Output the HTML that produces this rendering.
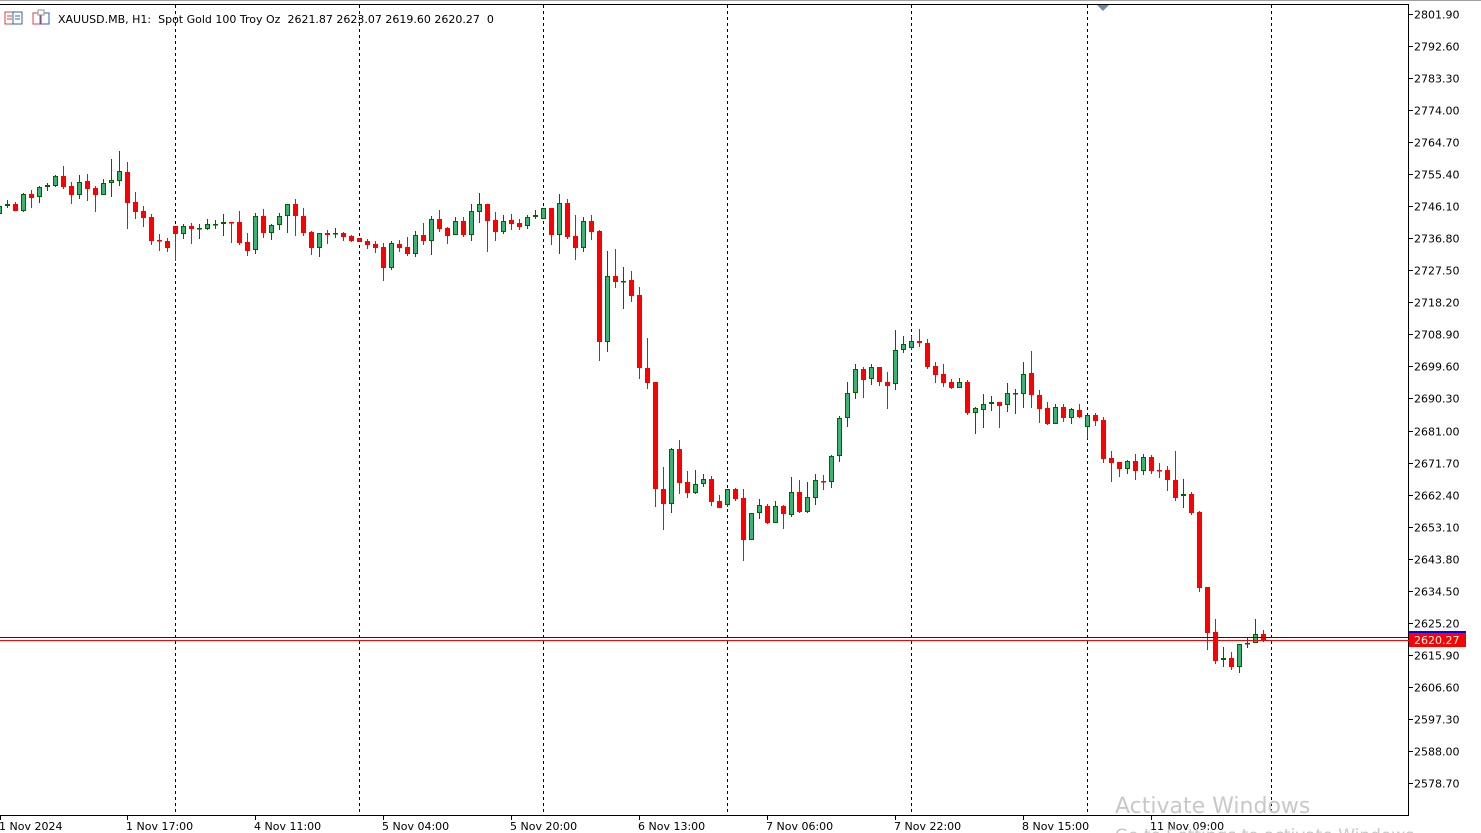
<!DOCTYPE html>
<html><head><meta charset="utf-8"><style>
html,body{margin:0;padding:0;background:#fff;width:1481px;height:833px;overflow:hidden}
svg{display:block}
text{font-family:"DejaVu Sans","Liberation Sans",sans-serif;font-size:11px;fill:#000;white-space:pre}
</style></head><body>
<svg id="s" width="1481" height="833" viewBox="0 0 1481 833" xmlns="http://www.w3.org/2000/svg">
<rect width="1481" height="833" fill="#fff"/>
<line x1="0" y1="0.5" x2="1481" y2="0.5" stroke="#a0a0a0"/>
<line x1="0" y1="4.5" x2="1409" y2="4.5" stroke="#000"/>
<line x1="1408.5" y1="4" x2="1408.5" y2="815" stroke="#000"/>
<line x1="0" y1="815.5" x2="1409" y2="815.5" stroke="#000"/>
<g stroke="#000" stroke-dasharray="3,3" stroke-width="1">
<line x1="175.5" y1="5" x2="175.5" y2="815"/><line x1="359.5" y1="5" x2="359.5" y2="815"/>
<line x1="543.5" y1="5" x2="543.5" y2="815"/><line x1="727.5" y1="5" x2="727.5" y2="815"/>
<line x1="911.5" y1="5" x2="911.5" y2="815"/><line x1="1087.5" y1="5" x2="1087.5" y2="815"/>
<line x1="1271.5" y1="5" x2="1271.5" y2="815"/>
</g>
<polygon points="1097,5 1109,5 1103,11" fill="#6f8aa8"/>
<g id="candles"></g>
<line x1="0" y1="637.5" x2="1409" y2="637.5" stroke="#0000ff"/>
<line x1="0" y1="640.5" x2="1409" y2="640.5" stroke="#ff0000"/>
<rect x="1409" y="631" width="57" height="2" fill="#0000ff"/>
<rect x="1409" y="633" width="57" height="14" fill="#ff0000"/>
<text x="1414" y="644" style="fill:#fff">2620.27</text>
<g id="yax"></g>
<g id="xax"></g>
<rect x="5" y="12" width="8" height="12" fill="none" stroke="#e04040"/>
<rect x="13" y="12" width="9" height="12" fill="none" stroke="#3060c0"/>
<line x1="7" y1="16" x2="12" y2="16" stroke="#e04040"/><line x1="7" y1="19" x2="12" y2="19" stroke="#e04040"/>
<line x1="15" y1="16" x2="20" y2="16" stroke="#3060c0"/><line x1="15" y1="19" x2="20" y2="19" stroke="#3060c0"/>
<rect x="33" y="13" width="7" height="11" fill="none" stroke="#e04040"/>
<rect x="41" y="13" width="8" height="11" fill="none" stroke="#3060c0"/>
<rect x="38" y="10" width="6" height="5" fill="#fff" stroke="#909090"/>
<text x="58" y="23" xml:space="preserve">XAUUSD.MB, H1:  Spot Gold 100 Troy Oz  2621.87 2623.07 2619.60 2620.27  0</text>
<text x="1115" y="813" style="font-size:22px;fill:#c8c8c8">Activate Windows</text>
<text x="1115" y="841" style="font-size:17px;fill:#c8c8c8">Go to Settings to activate Windows.</text>
</svg>
<script>
var S="http://www.w3.org/2000/svg";
function el(t,a,p){var e=document.createElementNS(S,t);for(var k in a)e.setAttribute(k,a[k]);p.appendChild(e);return e;}
var d=[
[-1,'g',206,214,204,215],[0,'g',204,206,200,208],[1,'r',204,211,202,211],[2,'g',194,211,193,212],[3,'r',194,198,190,208],
[4,'g',187,197,186,203],[5,'g',185,187,183,191],[6,'g',176,186,175,187],[7,'r',176,187,166,189],[8,'r',186,195,182,204],
[9,'g',182,195,175,199],[10,'r',181,189,174,201],[11,'r',188,195,186,212],[12,'g',183,195,179,195],[13,'g',180,183,159,197],
[14,'g',171,181,151,186],[15,'r',172,203,162,229],[16,'r',202,212,192,219],[17,'r',211,218,206,227],[18,'r',217,241,214,245],
[19,'r',240,240,234,251],[20,'r',241,248,238,252],[21,'r',226,234,226,261],[22,'g',226,234,224,239],[23,'r',226,229,223,244],
[24,'g',228,228,224,239],[25,'g',224,229,219,230],[26,'g',224,224,220,229],[27,'g',222,224,214,236],[28,'r',222,222,222,243],
[29,'r',222,243,211,245],[30,'r',242,251,233,256],[31,'g',216,250,213,254],[32,'r',216,233,209,238],[33,'g',225,233,224,240],
[34,'g',216,225,213,230],[35,'g',204,216,204,233],[36,'r',204,216,199,236],[37,'r',216,233,208,236],[38,'r',232,248,231,255],
[39,'g',233,248,233,257],[40,'r',233,235,230,244],[41,'g',233,233,228,238],[42,'r',233,237,232,241],[43,'r',236,241,235,242],
[44,'r',238,242,238,242],[45,'r',241,245,239,249],[46,'r',244,248,241,253],[47,'r',247,268,243,281],[48,'g',243,268,241,270],
[49,'r',244,248,240,252],[50,'r',247,254,237,256],[51,'g',235,254,231,257],[52,'r',235,241,223,245],[53,'g',219,241,216,255],
[54,'r',219,229,210,232],[55,'r',228,236,227,244],[56,'g',221,235,217,235],[57,'r',221,235,217,237],[58,'g',211,235,204,241],
[59,'g',204,212,193,223],[60,'r',204,221,204,252],[61,'r',220,232,212,241],[62,'g',221,232,215,234],[63,'r',220,224,214,230],
[64,'r',223,227,219,230],[65,'g',217,226,215,229],[66,'g',215,217,210,219],[67,'g',208,219,208,219],[68,'r',208,235,208,245],
[69,'g',203,235,194,254],[70,'r',203,237,199,239],[71,'r',236,248,215,260],[72,'g',221,248,217,252],[73,'r',221,232,215,240],
[74,'r',231,342,230,361],[75,'g',276,342,251,352],[76,'r',276,282,249,288],[77,'g',281,281,267,309],[78,'r',280,296,271,302],
[79,'r',295,368,287,379],[80,'r',368,383,338,389],[81,'r',382,489,382,507],[82,'r',489,504,467,530],[83,'g',449,504,448,513],
[84,'r',449,483,440,494],[85,'r',482,493,471,498],[86,'g',484,493,470,494],[87,'g',479,484,474,487],[88,'r',479,502,476,506],
[89,'r',501,508,495,508],[90,'g',489,505,489,507],[91,'r',489,499,488,501],[92,'r',498,540,489,561],[93,'g',513,540,513,540],
[94,'g',505,513,499,519],[95,'r',506,523,504,524],[96,'g',506,523,501,523],[97,'r',506,514,505,529],[98,'g',492,515,477,517],
[99,'r',492,512,480,513],[100,'g',497,512,482,513],[101,'g',480,498,474,505],[102,'r',481,481,475,490],[103,'g',456,482,455,488],
[104,'g',418,456,416,462],[105,'g',393,418,382,427],[106,'g',369,393,364,399],[107,'r',369,380,367,398],[108,'g',367,379,364,385],
[109,'r',367,382,367,386],[110,'r',382,386,372,409],[111,'g',350,384,330,390],[112,'g',344,350,336,353],[113,'g',341,348,336,350],
[114,'r',341,343,329,347],[115,'r',343,367,339,369],[116,'r',366,375,362,383],[117,'r',374,383,364,387],[118,'r',382,388,379,389],
[119,'g',382,388,378,388],[120,'r',382,413,380,415],[121,'g',408,413,407,434],[122,'g',404,410,394,428],[123,'g',402,404,396,411],
[124,'r',402,406,402,428],[125,'g',393,405,383,412],[126,'g',393,393,389,414],[127,'g',374,394,362,408],[128,'r',373,395,351,408],
[129,'r',395,409,390,423],[130,'r',408,424,402,425],[131,'g',407,424,404,424],[132,'r',407,418,404,422],[133,'g',409,418,408,424],
[134,'r',410,417,404,418],[135,'g',415,427,415,439],[136,'r',415,421,413,426],[137,'r',420,459,417,463],[138,'r',458,463,451,482],
[139,'r',462,469,462,477],[140,'g',461,469,460,474],[141,'r',461,471,454,480],[142,'g',457,471,454,475],[143,'r',457,471,455,474],
[144,'r',470,470,463,478],[145,'r',470,480,466,491],[146,'r',480,498,451,501],[147,'g',494,496,479,508],[148,'r',494,513,492,515],
[149,'r',512,588,511,592],[150,'r',587,633,587,650],[151,'r',632,661,619,664],[152,'g',658,660,647,667],[153,'r',658,667,652,670],
[154,'g',644,667,644,673],[155,'g',643,644,638,648],[156,'g',634,643,619,643],[157,'r',634,640,630,642]];
var g=document.getElementById('candles');
d.forEach(function(c){var x=8*c[0]+5,cx=x+2.5,gr=c[1]=='g';
el('line',{x1:cx,y1:c[4],x2:cx,y2:c[5],stroke:gr?'#006400':'#b22222','stroke-width':1},g);
var h=Math.max(c[3]-c[2],1);
if(gr)el('rect',{x:x+0.5,y:c[2]+0.5,width:4,height:Math.max(h-1,0.5),fill:'#3cb371',stroke:'#006400'},g);
else el('rect',{x:x,y:c[2],width:5,height:Math.max(h,1.5),fill:'#ff0000'},g);});
var ya=document.getElementById('yax');
var v=['2801.90','2792.60','2783.30','2774.00','2764.70','2755.40','2746.10','2736.80','2727.50','2718.20','2708.90','2699.60','2690.30','2681.00','2671.70','2662.40','2653.10','2643.80','2634.50','2625.20','2615.90','2606.60','2597.30','2588.00','2578.70'];
v.forEach(function(t,i){var y=Math.round(14+32.04*i)+0.5;
el('line',{x1:1409,y1:y,x2:1413,y2:y,stroke:'#000'},ya);
var e=el('text',{x:1414,y:y+4},ya);e.textContent=t;});
var xa=document.getElementById('xax');
[['1 Nov 2024',0],['1 Nov 17:00',127],['4 Nov 11:00',255],['5 Nov 04:00',383],['5 Nov 20:00',511],['6 Nov 13:00',639],['7 Nov 06:00',767],['7 Nov 22:00',895],['8 Nov 15:00',1023],['11 Nov 09:00',1151]].forEach(function(a){
el('line',{x1:a[1]+0.5,y1:815,x2:a[1]+0.5,y2:820,stroke:'#000'},xa);
var e=el('text',{x:a[1]-1,y:830},xa);e.textContent=a[0];});
</script>
</body></html>
